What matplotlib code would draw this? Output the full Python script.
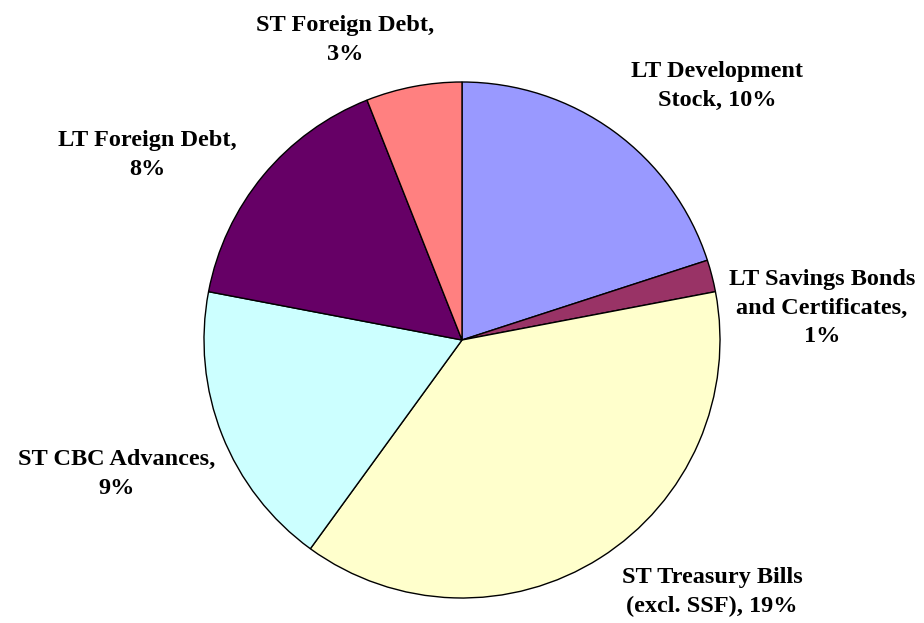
import matplotlib
matplotlib.use('Agg')
from matplotlib import pyplot as plt

labels = ['LT Development\nStock, 10%',
          'LT Savings Bonds\nand Certificates,\n1%',
          'ST Treasury Bills\n(excl. SSF), 19%',
          'ST CBC Advances,\n9%',
          'LT Foreign Debt,\n8%',
          'ST Foreign Debt,\n3%']
shares = [10, 1, 19, 9, 8, 3]
colors = ['#9999FF', '#993366', '#FFFFCC', '#CCFFFF', '#660066', '#FF8080']

# label centres in pixels (x, y from top)
label_px = [(717, 86), (822, 308), (712, 592), (117, 474), (147, 155), (345, 40)]

W, H = 924, 623
cx, cy, r = 462, 340, 258

fig = plt.figure(figsize=(W / 100, H / 100), dpi=100)
ax = fig.add_axes([0, 0, 1, 1])
ax.pie(shares, colors=colors, startangle=90, counterclock=False,
       wedgeprops=dict(edgecolor='black', linewidth=1))
ax.set_xlim(-cx / r, (W - cx) / r)
ax.set_ylim(-(H - cy) / r, cy / r)
ax.set_aspect('equal')
ax.axis('off')

for lab, (px, py) in zip(labels, label_px):
    ax.text((px - cx) / r, (cy - py) / r, lab, ha='center', va='center',
            fontsize=17.5, fontweight='bold', family='Liberation Serif',
            linespacing=1.45)

plt.savefig('out.png', dpi=100)
